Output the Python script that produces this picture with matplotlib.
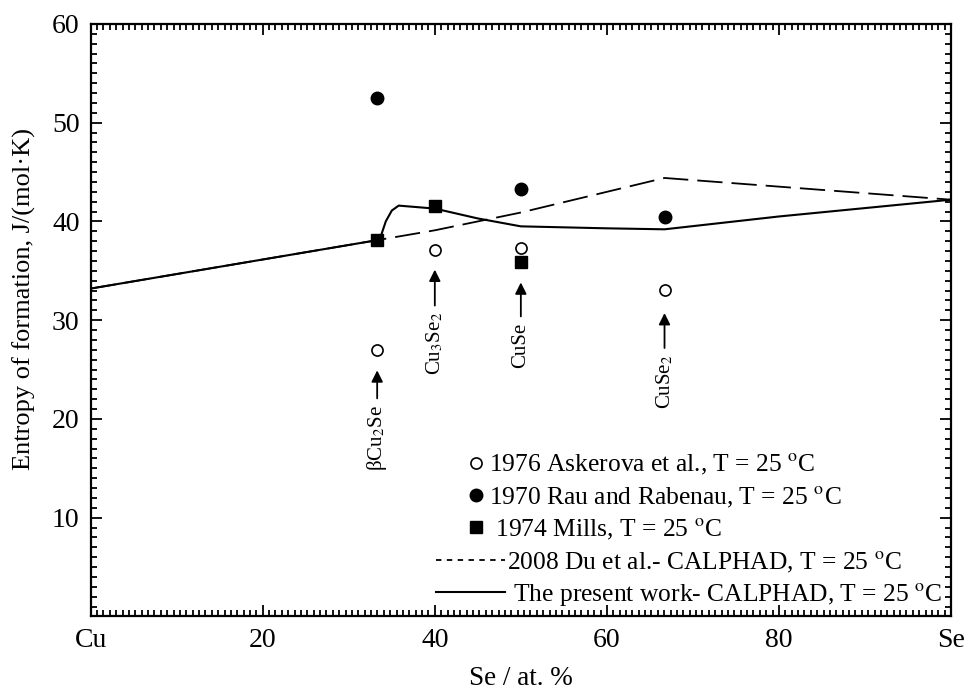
import numpy as np
import matplotlib
matplotlib.use('Agg')
import matplotlib.pyplot as plt
from matplotlib.ticker import MultipleLocator, FixedLocator

plt.rcParams['font.family'] = ['Liberation Serif', 'DejaVu Serif']
plt.rcParams['mathtext.fontset'] = 'stix'

# compound compositions (at.% Se)
comp_x = [33.3, 40.0, 50.0, 66.7]
comp_names = ['\u03b2Cu$_2$Se', 'Cu$_3$Se$_2$', 'CuSe', 'CuSe$_2$']

# experimental entropies of formation
askerova_x = [33.3, 40.0, 50.0, 66.7]
askerova_y = [27.0, 37.1, 37.3, 33.1]
rau_x = [33.3, 50.0, 66.7]
rau_y = [52.5, 43.3, 40.4]
mills_x = [33.3, 40.0, 50.0]
mills_y = [38.1, 41.6, 35.9]

# CALPHAD curves
du_x = [0, 33.3, 40.0, 50.0, 66.7, 100]
du_y = [33.2, 38.1, 39.1, 40.9, 44.4, 42.2]
pw_x = [0, 33.3, 33.8, 34.3, 35.0, 35.8, 40.0, 45.0, 50.0, 55.0, 60.0, 66.7, 80.0, 100]
pw_y = [33.2, 38.1, 38.7, 40.0, 41.1, 41.6, 41.3, 40.3, 39.5, 39.4, 39.3, 39.2, 40.5, 42.2]

# arrow tip / tail (y) for each compound label
arrow_tip = [25.2, 35.4, 34.1, 31.0]
arrow_tail = [21.8, 31.2, 30.1, 26.9]

xtick_pos = [0, 20, 40, 60, 80, 100]
xtick_lab = ['Cu', '20', '40', '60', '80', 'Se']
ytick_pos = [10, 20, 30, 40, 50, 60]

fig = plt.figure(figsize=(9.71, 6.93), dpi=100)
ax = fig.add_axes([0.0934, 0.1105, 0.886, 0.855])

deg = r'$^{\mathrm{o}}$'
h1, = ax.plot(askerova_x, askerova_y, 'o', ms=8, mfc='white', mec='black', mew=1.2, ls='none',
              label='1976 Askerova et al., T = 25 ' + deg + 'C')
h2, = ax.plot(rau_x, rau_y, 'o', ms=9, color='black', ls='none',
              label='1970 Rau and Rabenau, T = 25 ' + deg + 'C')
h3, = ax.plot(mills_x, mills_y, 's', ms=8, color='black', ls='none',
              label=' 1974 Mills, T = 25 ' + deg + 'C')
h4, = ax.plot(du_x, du_y, color='black', lw=1.3, dashes=(14, 5),
              label='2008 Du et al.- CALPHAD, T = 25 ' + deg + 'C')
h5, = ax.plot(pw_x, pw_y, color='black', lw=1.5,
              label=' The present work- CALPHAD, T = 25 ' + deg + 'C')

for x, name, tip, tail in zip(comp_x, comp_names, arrow_tip, arrow_tail):
    ax.annotate('', xy=(x, tip), xytext=(x, tail),
                arrowprops=dict(arrowstyle='-|>', color='black', lw=1.3, mutation_scale=17))
    ax.text(x, tail - 0.4, name, rotation=90, ha='center', va='top', fontsize=15)

ax.set_xlim(0, 100)
ax.set_ylim(0, 60)
ax.xaxis.set_major_locator(FixedLocator(xtick_pos))
ax.set_xticklabels(xtick_lab)
ax.yaxis.set_major_locator(FixedLocator(ytick_pos))
ax.xaxis.set_minor_locator(MultipleLocator(20 / 27))
ax.yaxis.set_minor_locator(MultipleLocator(1))
ax.tick_params(which='both', direction='in', top=True, right=True, labelsize=20, width=1.3)
ax.tick_params(which='major', length=8, pad=8)
ax.tick_params(which='minor', length=4)
for s in ax.spines.values():
    s.set_linewidth(1.6)

ax.set_xlabel('Se / at. %', fontsize=19.5, labelpad=10)
ax.set_ylabel('Entropy of formation, J/(mol\u00b7K)', fontsize=19)
ax.yaxis.set_label_coords(-0.064, 0.535)

# marker entries and line entries are laid out separately, as in the original figure
leg1 = ax.legend(handles=[h1, h2, h3], loc='upper left', bbox_to_anchor=(0.436, 0.277),
                 frameon=False, fontsize=18.4, handlelength=0.8, handletextpad=0.1,
                 labelspacing=0.28, borderpad=0, borderaxespad=0, numpoints=1)
ax.add_artist(leg1)
leg2 = ax.legend(handles=[h4, h5], loc='upper left', bbox_to_anchor=(0.401, 0.113),
                 frameon=False, fontsize=18.4, handlelength=2.7, handletextpad=0.08,
                 labelspacing=0.25, borderpad=0, borderaxespad=0)
leg2.get_lines()[0].set_dashes((3, 3))

fig.savefig('out.png', dpi=100)
